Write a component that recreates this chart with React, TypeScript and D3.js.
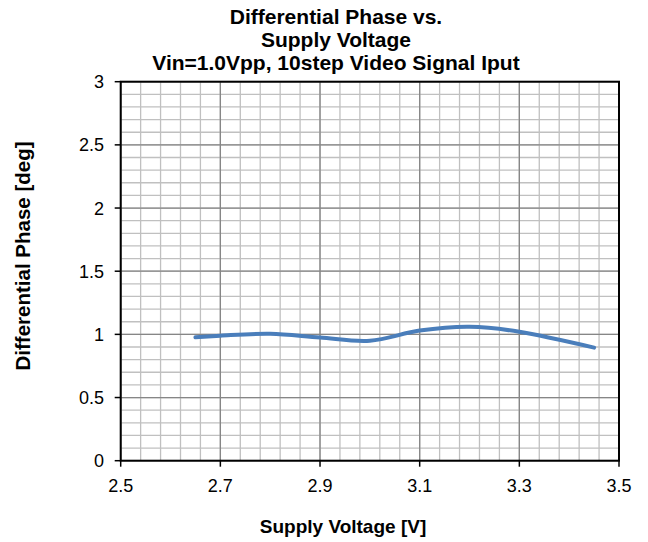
import React from "react";
import * as d3 from "d3";

const voltages = [2.65, 2.7, 2.8, 2.9, 3.0, 3.1, 3.2, 3.3, 3.45];
const phases = [0.977, 0.99, 1.005, 0.975, 0.95, 1.03, 1.06, 1.02, 0.895];
const xTicks = [2.5, 2.7, 2.9, 3.1, 3.3, 3.5];
const yTicks = [0, 0.5, 1, 1.5, 2, 2.5, 3];
const titleLines = ["Differential Phase vs.", "Supply Voltage", "Vin=1.0Vpp, 10step Video Signal Iput"];

const W = 648, H = 542;
const L = 120.7, R = 619, T = 81.7, B = 460.7;

export default function App() {
  const x = d3.scaleLinear().domain([2.5, 3.5]).range([L, R]);
  const y = d3.scaleLinear().domain([0, 3]).range([B, T]);
  const minorX = d3.range(0, 26).map((i) => 2.5 + i * 0.04);
  const minorY = d3.range(0, 31).map((i) => i * 0.1);
  const line = d3
    .line<number>()
    .x((_, i) => x(voltages[i]))
    .y((d) => y(d))
    .curve(d3.curveCardinal.tension(0));
  const font = "'Liberation Sans', Arial, sans-serif";
  return (
    <svg width={W} height={H} style={{ position: "absolute", left: 0, top: 0, background: "#fff" }}>
      <rect x={0} y={0} width={W} height={H} fill="#fff" />
      {minorX.map((v, i) => (
        <line key={"mx" + i} x1={x(v)} x2={x(v)} y1={T} y2={B} stroke="#c0c0c0" strokeWidth={1.3} />
      ))}
      {minorY.map((v, i) => (
        <line key={"my" + i} x1={L} x2={R} y1={y(v)} y2={y(v)} stroke="#c0c0c0" strokeWidth={1.3} />
      ))}
      {xTicks.map((v) => (
        <line key={"Mx" + v} x1={x(v)} x2={x(v)} y1={T} y2={B} stroke="#868686" strokeWidth={1.3} />
      ))}
      {yTicks.map((v) => (
        <line key={"My" + v} x1={L} x2={R} y1={y(v)} y2={y(v)} stroke="#868686" strokeWidth={1.3} />
      ))}
      <path d={line(phases) || ""} fill="none" stroke="#4a7ebb" strokeWidth={4} strokeLinecap="round" />
      <rect x={L} y={T} width={R - L} height={B - T} fill="none" stroke="#000" strokeWidth={2} />
      {xTicks.map((v) => (
        <g key={"xt" + v}>
          <line x1={x(v)} x2={x(v)} y1={B} y2={B + 6} stroke="#000" strokeWidth={1.5} />
          <text x={x(v)} y={492} textAnchor="middle" fontFamily={font} fontSize={18} fill="#000">
            {v.toFixed(1)}
          </text>
        </g>
      ))}
      {yTicks.map((v) => (
        <g key={"yt" + v}>
          <line x1={L - 6} x2={L} y1={y(v)} y2={y(v)} stroke="#000" strokeWidth={1.5} />
          <text x={104} y={y(v) + 6.5} textAnchor="end" fontFamily={font} fontSize={18} fill="#000">
            {String(v)}
          </text>
        </g>
      ))}
      {titleLines.map((t, i) => (
        <text key={t} x={336} y={24 + i * 23} textAnchor="middle" fontFamily={font} fontWeight="bold" fontSize={21} fill="#000">
          {t}
        </text>
      ))}
      <text x={343} y={533} textAnchor="middle" fontFamily={font} fontWeight="bold" fontSize={19} fill="#000">
        Supply Voltage [V]
      </text>
      <text
        transform={`translate(30,256) rotate(-90)`}
        textAnchor="middle"
        fontFamily={font}
        fontWeight="bold"
        fontSize={20.5}
        fill="#000"
      >
        Differential Phase [deg]
      </text>
    </svg>
  );
}
